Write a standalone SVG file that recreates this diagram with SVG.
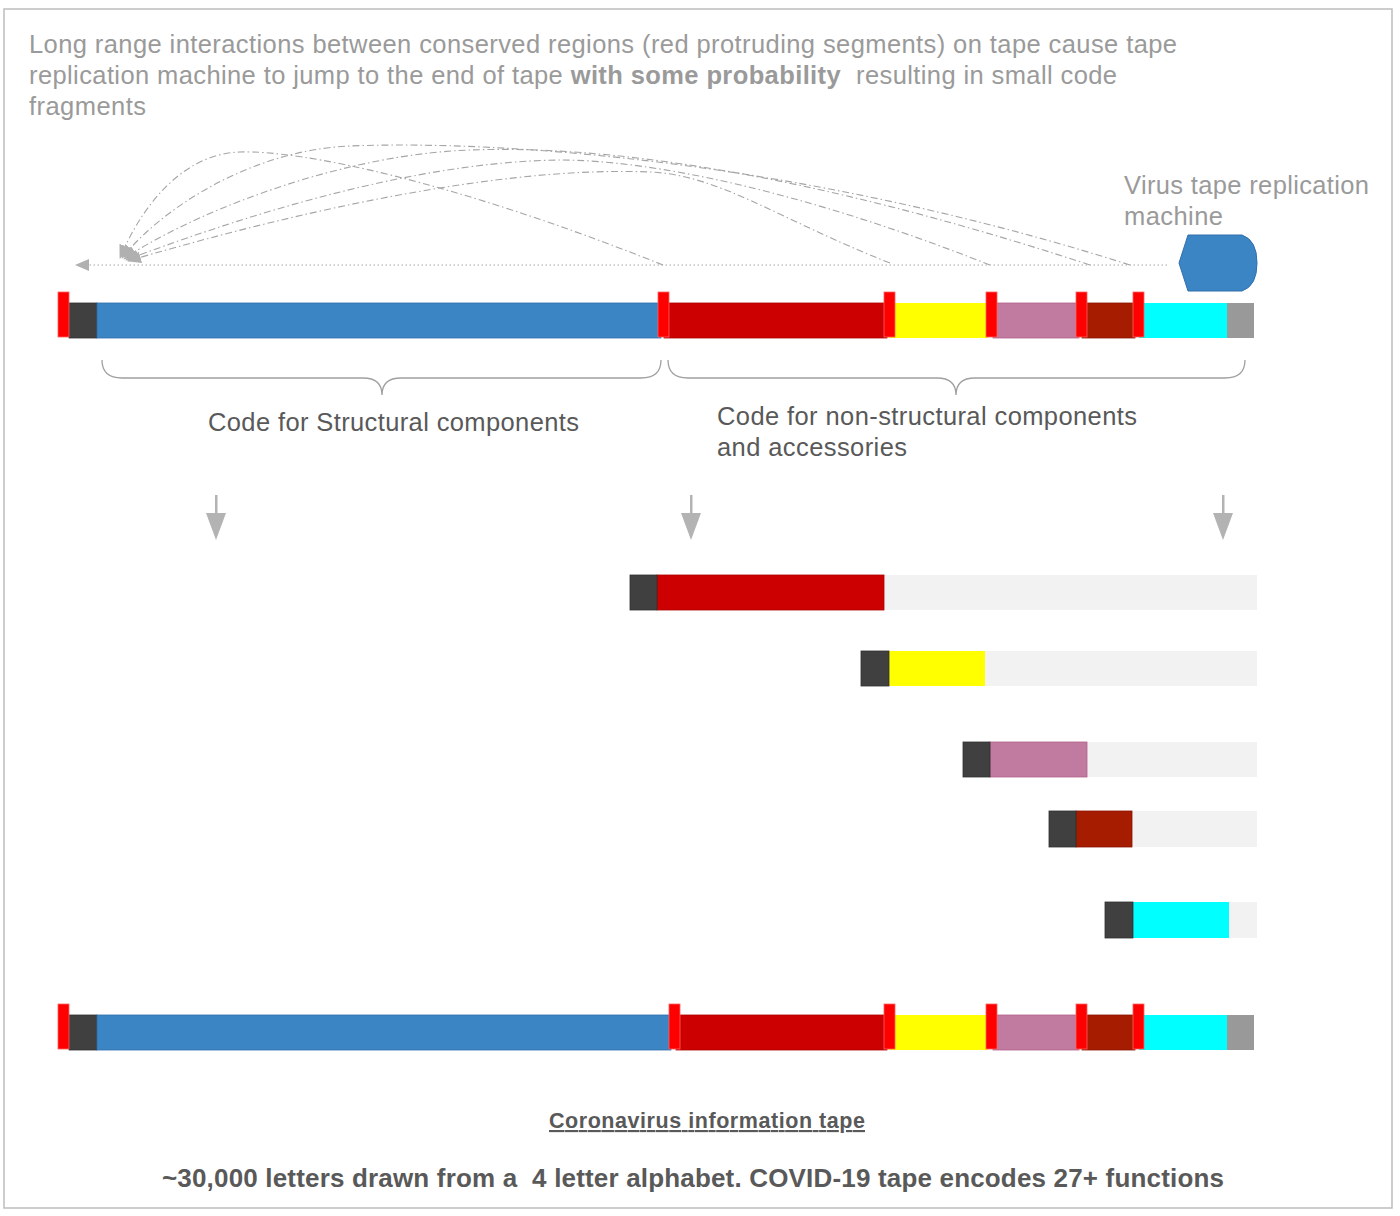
<svg xmlns="http://www.w3.org/2000/svg" width="1400" height="1216" viewBox="0 0 1400 1216">
<style>
.t{font-family:"Liberation Sans",Arial,sans-serif}
.gray{fill:#9a9a9a}
.dark{fill:#595959}
.mk{fill:#ff0000;stroke:#ff6060;stroke-width:0.8}
.cap{fill:#404040;stroke:#303030;stroke-width:0.8}
.blue{fill:#3c85c4;stroke:#2f6fae;stroke-width:0.8}
.red{fill:#cc0000;stroke:#b00000;stroke-width:0.8}
.yel{fill:#ffff00}
.pink{fill:#c27ba0;stroke:#b0608a;stroke-width:0.8}
.brn{fill:#a61c00;stroke:#8a1500;stroke-width:0.8}
.cyan{fill:#00ffff}
.end{fill:#999999}
.bg{fill:#f2f2f2}
.curve{fill:none;stroke:#a6a6a6;stroke-width:1.1;stroke-dasharray:7,3,1.5,3}
.dot{fill:none;stroke:#a6a6a6;stroke-width:1.1;stroke-dasharray:1.5,2.5}
.brace{fill:none;stroke:#a0a0a0;stroke-width:1.3}
.darr{fill:#b3b3b3}
</style>
<defs>
<marker id="ah2" markerWidth="14" markerHeight="12" refX="13" refY="6" orient="auto" markerUnits="userSpaceOnUse">
<path d="M14,6 L0,0 L0,12 Z" fill="#b0b0b0"/>
</marker>
</defs>
<rect x="4" y="9" width="1388" height="1199" fill="#ffffff" stroke="#bdbdbd" stroke-width="1.5"/>

<g id="title">
<text class="t gray" x="29" y="53" font-size="25.5" textLength="1148" lengthAdjust="spacing">Long range interactions between conserved regions (red protruding segments) on tape cause tape</text>
<text class="t gray" x="29" y="84" font-size="25.5" textLength="1088" lengthAdjust="spacing" xml:space="preserve">replication machine to jump to the end of tape <tspan font-weight="bold">with some probability</tspan>  resulting in small code</text>
<text class="t gray" x="29" y="115" font-size="25.5" textLength="117" lengthAdjust="spacing">fragments</text>
</g>

<g id="connectors">
<path class="dot" d="M1167,265 L76,265" marker-end="url(#ah2)"/>
<path class="curve" d="M663,265 C450,180 300,150 240,152 C180,154 140,210 120,258" marker-end="url(#ah2)"/>
<path class="curve" d="M1130,265 C800,160 500,140 350,146 C250,150 160,210 122,258" marker-end="url(#ah2)"/>
<path class="curve" d="M1090,265 C800,170 600,145 470,150 C330,155 180,220 124,259" marker-end="url(#ah2)"/>
<path class="curve" d="M990,265 C800,190 650,160 560,160 C400,162 220,225 126,260" marker-end="url(#ah2)"/>
<path class="curve" d="M890,263 C780,220 720,175 650,172 C480,165 250,225 128,261" marker-end="url(#ah2)"/>
</g>

<g id="machine">
<path d="M1188,235 L1242,235 Q1257,240 1257,263 Q1257,286 1242,291 L1188,291 L1179,263 Z" fill="#3c85c4" stroke="#2f6fae" stroke-width="1"/>
<text class="t gray" x="1124" y="194" font-size="25.5" textLength="245" lengthAdjust="spacing">Virus tape replication</text>
<text class="t gray" x="1124" y="225" font-size="25.5" textLength="99" lengthAdjust="spacing">machine</text>
</g>

<g id="top-tape">
<rect class="cap" x="69" y="303" width="28" height="35"/>
<rect class="blue" x="97" y="303" width="564" height="35"/>
<rect class="red" x="664" y="303" width="223" height="35"/>
<rect class="yel" x="889" y="303" width="99" height="35"/>
<rect class="pink" x="993" y="303" width="86" height="35"/>
<rect class="brn" x="1082" y="303" width="53" height="35"/>
<rect class="cyan" x="1139" y="303" width="88" height="35"/>
<rect class="end" x="1227" y="303" width="27" height="35"/>
<rect class="mk" x="58" y="292" width="11" height="45"/>
<rect class="mk" x="658" y="292" width="11" height="45"/>
<rect class="mk" x="884" y="292" width="11" height="45"/>
<rect class="mk" x="986" y="292" width="11" height="45"/>
<rect class="mk" x="1076" y="292" width="11" height="45"/>
<rect class="mk" x="1133" y="292" width="11" height="45"/>
</g>

<g id="braces">
<path class="brace" d="M102,360 Q102,378 122,378 L363,378 Q382,378 382,395 Q382,378 401,378 L641,378 Q661,378 661,360"/>
<path class="brace" d="M668,360 Q668,378 688,378 L937,378 Q956,378 956,395 Q956,378 975,378 L1225,378 Q1245,378 1245,360"/>
</g>

<g id="labels">
<text class="t dark" x="208" y="431" font-size="25.5" textLength="371" lengthAdjust="spacing">Code for Structural components</text>
<text class="t dark" x="717" y="425" font-size="25.5" textLength="420" lengthAdjust="spacing">Code for non-structural components</text>
<text class="t dark" x="717" y="456" font-size="25.5" textLength="190" lengthAdjust="spacing">and accessories</text>
</g>

<g id="down-arrows">
<rect class="darr" x="215" y="495" width="2.5" height="20"/>
<path class="darr" d="M206,513 L226,513 L216,540 Z"/>
<rect class="darr" x="690" y="495" width="2.5" height="20"/>
<path class="darr" d="M681,513 L701,513 L691,540 Z"/>
<rect class="darr" x="1222" y="495" width="2.5" height="20"/>
<path class="darr" d="M1213,513 L1233,513 L1223,540 Z"/>
</g>

<g id="fragment1">
<rect class="bg" x="884" y="575" width="373" height="35"/>
<rect class="red" x="657" y="575" width="227" height="35"/>
<rect class="cap" x="630" y="575" width="27" height="35"/>
</g>
<g id="fragment2">
<rect class="bg" x="985" y="651" width="272" height="35"/>
<rect class="yel" x="889" y="651" width="96" height="35"/>
<rect class="cap" x="861" y="651" width="28" height="35"/>
</g>
<g id="fragment3">
<rect class="bg" x="1087" y="742" width="170" height="35"/>
<rect class="pink" x="990" y="742" width="97" height="35"/>
<rect class="cap" x="963" y="742" width="27" height="35"/>
</g>
<g id="fragment4">
<rect class="bg" x="1132" y="811" width="125" height="36"/>
<rect class="brn" x="1076" y="811" width="56" height="36"/>
<rect class="cap" x="1049" y="811" width="27" height="36"/>
</g>
<g id="fragment5">
<rect class="bg" x="1229" y="902" width="28" height="36"/>
<rect class="cyan" x="1133" y="902" width="96" height="36"/>
<rect class="cap" x="1105" y="902" width="28" height="36"/>
</g>

<g id="bottom-tape">
<rect class="cap" x="69" y="1015" width="28" height="35"/>
<rect class="blue" x="97" y="1015" width="574" height="35"/>
<rect class="red" x="676" y="1015" width="211" height="35"/>
<rect class="yel" x="889" y="1015" width="99" height="35"/>
<rect class="pink" x="993" y="1015" width="86" height="35"/>
<rect class="brn" x="1082" y="1015" width="53" height="35"/>
<rect class="cyan" x="1139" y="1015" width="88" height="35"/>
<rect class="end" x="1227" y="1015" width="27" height="35"/>
<rect class="mk" x="58" y="1004" width="11" height="45"/>
<rect class="mk" x="669" y="1004" width="11" height="45"/>
<rect class="mk" x="884" y="1004" width="11" height="45"/>
<rect class="mk" x="986" y="1004" width="11" height="45"/>
<rect class="mk" x="1076" y="1004" width="11" height="45"/>
<rect class="mk" x="1133" y="1004" width="11" height="45"/>
</g>

<g id="footer">
<text class="t dark" x="549" y="1128" font-size="21.5" font-weight="bold" text-decoration="underline" textLength="316" lengthAdjust="spacing">Coronavirus information tape</text>
<text class="t dark" x="162" y="1187" font-size="26" font-weight="bold" xml:space="preserve" textLength="1062" lengthAdjust="spacing">~30,000 letters drawn from a  4 letter alphabet. COVID-19 tape encodes 27+ functions</text>
</g>
</svg>
